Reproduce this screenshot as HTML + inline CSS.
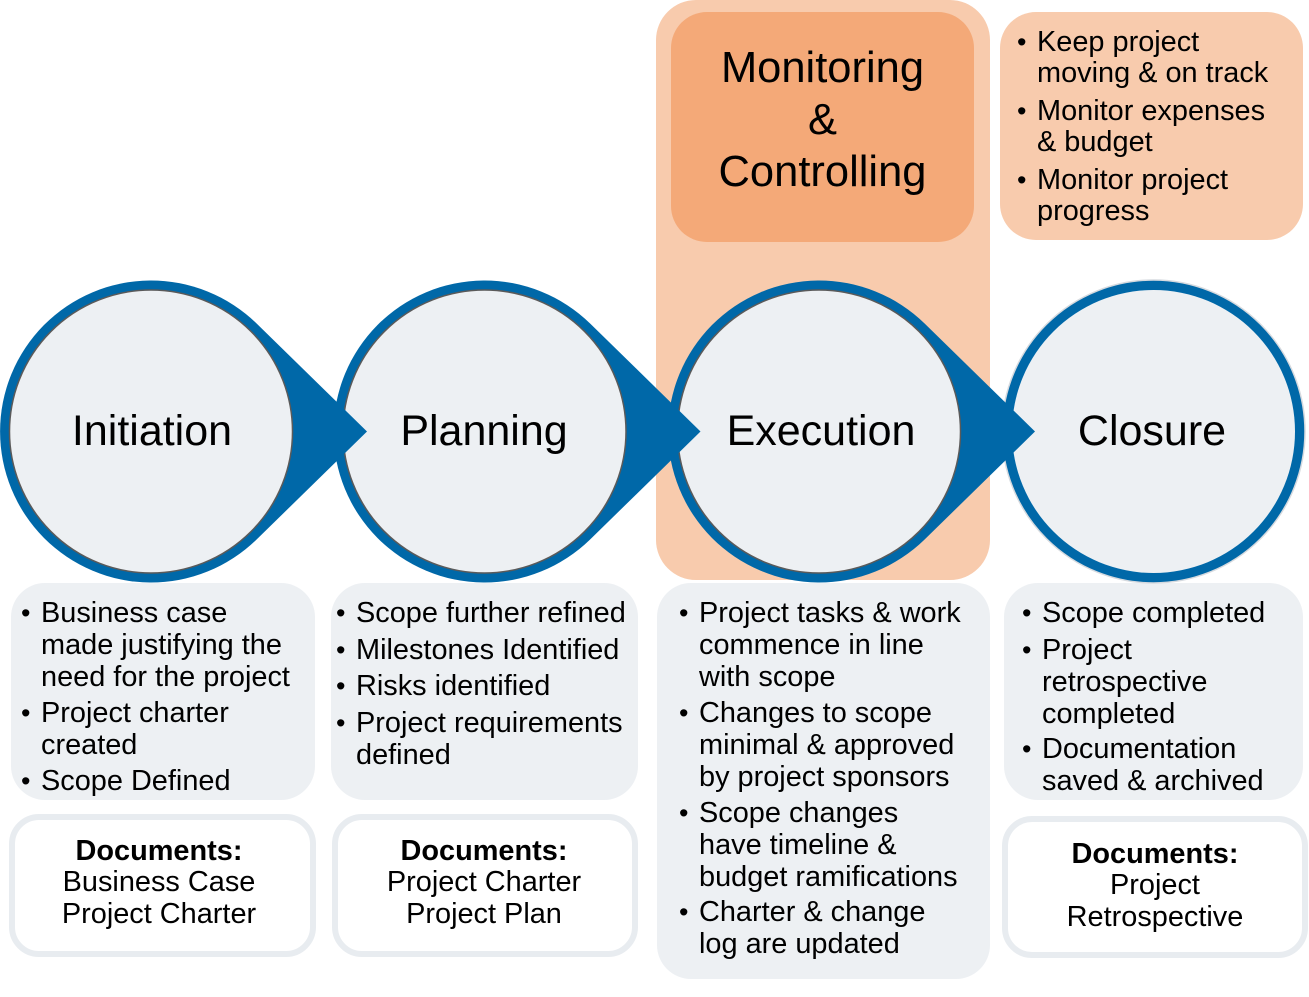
<!DOCTYPE html>
<html><head><meta charset="utf-8"><style>
html,body{margin:0;padding:0;background:#fff;}
body{width:1309px;height:997px;position:relative;overflow:hidden;font-family:"Liberation Sans",Arial,sans-serif;color:#000;}
.abs{position:absolute;}
.gbox{position:absolute;background:#edf0f3;border-radius:34px;}
.dbox{position:absolute;box-sizing:border-box;border:6px solid #e8ecf0;background:#fff;border-radius:30px;}
.b{position:absolute;font-size:28.9px;line-height:32px;white-space:nowrap;}
.b::before{content:"\2022";position:absolute;left:-20px;top:0;font-size:27px;}
.rb{line-height:31px;}
.doc{position:absolute;font-size:28.9px;line-height:31.5px;text-align:center;white-space:nowrap;}
.doc b{font-weight:bold;}
svg{position:absolute;left:0;top:0;}
</style></head><body>

<!-- peach column -->
<div class="abs" style="left:656px;top:0;width:334px;height:580px;background:#f8cbad;border-radius:40px;"></div>
<div class="abs" style="left:671px;top:12px;width:303px;height:230px;background:#f4a978;border-radius:36px;"></div>
<div class="abs" style="left:1000px;top:12px;width:303px;height:228px;background:#f8cbad;border-radius:36px;"></div>

<!-- gray boxes -->
<div class="gbox" style="left:11px;top:583px;width:304px;height:217px;"></div>
<div class="gbox" style="left:331px;top:583px;width:307px;height:217px;"></div>
<div class="gbox" style="left:657px;top:583px;width:333px;height:396px;"></div>
<div class="gbox" style="left:1004px;top:583px;width:299px;height:217px;"></div>

<!-- document boxes -->
<div class="dbox" style="left:9px;top:814px;width:307px;height:143px;"></div>
<div class="dbox" style="left:332px;top:814px;width:306px;height:143px;"></div>
<div class="dbox" style="left:1002px;top:816px;width:306px;height:142px;"></div>

<svg width="1309" height="997" viewBox="0 0 1309 997">
  <!-- Closure -->
  <circle cx="1153.5" cy="431.5" r="151.5" fill="#0068a8" stroke="#d6dadf" stroke-width="1.5"/>
  <circle cx="1153.5" cy="431.5" r="141.5" fill="#edf0f3"/>
  <!-- Execution -->
  <path d="M1035,431.5 L924.6,323.5 A151,151 0 1 0 924.6,539.5 Z" fill="#0068a8"/>
  <circle cx="819" cy="431.5" r="141.5" fill="#edf0f3" stroke="#5a5a5a" stroke-width="1.5"/>
  <!-- Planning -->
  <path d="M700.5,431.5 L590.1,323.5 A151,151 0 1 0 590.1,539.5 Z" fill="#0068a8"/>
  <circle cx="484.5" cy="431.5" r="141.5" fill="#edf0f3" stroke="#5a5a5a" stroke-width="1.5"/>
  <!-- Initiation -->
  <path d="M367,431.5 L256.6,323.5 A151,151 0 1 0 256.6,539.5 Z" fill="#0068a8"/>
  <circle cx="151" cy="431.5" r="141.5" fill="#edf0f3" stroke="#5a5a5a" stroke-width="1.5"/>

  <g font-family="Liberation Sans, Arial, sans-serif" font-size="43" text-anchor="middle" fill="#000">
    <text x="152" y="445">Initiation</text>
    <text x="484" y="445">Planning</text>
    <text x="821" y="445">Execution</text>
    <text x="1152" y="445">Closure</text>
  </g>
</svg>

<!-- Monitoring & Controlling -->
<div class="abs" style="left:671px;top:42px;width:303px;text-align:center;font-size:43.5px;line-height:52px;">Monitoring<br>&amp;<br>Controlling</div>

<!-- right top bullets -->
<div class="b rb" style="left:1037px;top:27px;">Keep project<br>moving &amp; on track</div>
<div class="b rb" style="left:1037px;top:96px;">Monitor expenses<br>&amp; budget</div>
<div class="b rb" style="left:1037px;top:164.5px;">Monitor project<br>progress</div>

<!-- Box 1 -->
<div class="b" style="left:41px;top:597px;">Business case<br>made justifying the<br>need for the project</div>
<div class="b" style="left:41px;top:697px;">Project charter<br>created</div>
<div class="b" style="left:41px;top:765px;">Scope Defined</div>

<!-- Box 2 -->
<div class="b" style="left:356px;top:597px;">Scope further refined</div>
<div class="b" style="left:356px;top:634px;">Milestones Identified</div>
<div class="b" style="left:356px;top:670px;">Risks identified</div>
<div class="b" style="left:356px;top:707px;">Project requirements<br>defined</div>

<!-- Box 3 -->
<div class="b" style="left:699px;top:597px;">Project tasks &amp; work<br>commence in line<br>with scope</div>
<div class="b" style="left:699px;top:697px;">Changes to scope<br>minimal &amp; approved<br>by project sponsors</div>
<div class="b" style="left:699px;top:797px;">Scope changes<br>have timeline &amp;<br>budget ramifications</div>
<div class="b" style="left:699px;top:896px;">Charter &amp; change<br>log are updated</div>

<!-- Box 4 -->
<div class="b" style="left:1042px;top:597px;">Scope completed</div>
<div class="b" style="left:1042px;top:634px;">Project<br>retrospective<br>completed</div>
<div class="b" style="left:1042px;top:733px;">Documentation<br>saved &amp; archived</div>

<!-- Documents -->
<div class="doc" style="left:9px;top:835.5px;width:300px;"><b>Documents:</b><br>Business Case<br>Project Charter</div>
<div class="doc" style="left:334px;top:835.5px;width:300px;"><b>Documents:</b><br>Project Charter<br>Project Plan</div>
<div class="doc" style="left:1005px;top:838.5px;width:300px;"><b>Documents:</b><br>Project<br>Retrospective</div>

</body></html>
